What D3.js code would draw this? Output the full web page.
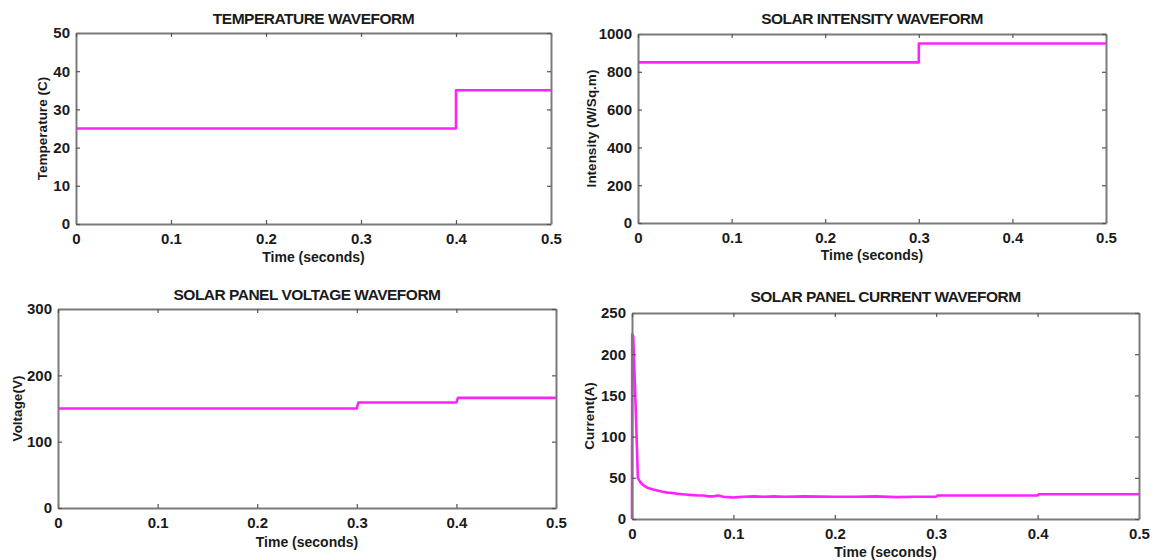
<!DOCTYPE html>
<html>
<head>
<meta charset="utf-8">
<script src="https://cdn.jsdelivr.net/npm/d3@7"></script>
<style>
  html, body { margin: 0; padding: 0; background: #fff; }
  svg text { font-family: "Liberation Sans", Arial, sans-serif; font-weight: bold; fill: #1a1a1a; }
</style>
</head>
<body>
<svg id="chart" width="1158" height="560"></svg>
<script>
// Time axis shared by all four waveforms
const timeTicks = [0, 0.1, 0.2, 0.3, 0.4, 0.5];

// Temperature step (C)
const tempTime  = [0, 0.4, 0.4, 0.5];
const tempValue = [25, 25, 35, 35];
const tempTicks = [0, 10, 20, 30, 40, 50];

// Irradiance step (W/Sq.m)
const irrTime  = [0, 0.3, 0.3, 0.5];
const irrValue = [850, 850, 950, 950];
const irrTicks = [0, 200, 400, 600, 800, 1000];

// Panel voltage (V)
const voltTime  = [0, 0.3, 0.3015, 0.4, 0.4015, 0.5];
const voltValue = [150, 150, 159, 159, 166, 166];
const voltTicks = [0, 100, 200, 300];

// Panel current (A): start-up spike then settling
const currTime  = [0, 0.0002, 0.0012, 0.0035, 0.0058, 0.008, 0.011, 0.015, 0.02, 0.025, 0.03, 0.035, 0.04, 0.045,
                   0.05, 0.055, 0.06, 0.065, 0.07, 0.075, 0.08, 0.085, 0.09, 0.095, 0.1, 0.105, 0.11, 0.12, 0.13,
                   0.14, 0.15, 0.17, 0.2, 0.22, 0.24, 0.26, 0.28, 0.3, 0.301, 0.33, 0.36, 0.4, 0.401, 0.45, 0.5];
const currValue = [0, 224, 222, 140, 50, 45, 41, 38, 36, 34.5, 33, 32, 31.5, 30.5,
                   30, 29.5, 29, 28.5, 28.5, 27.5, 27.5, 28.5, 27, 26.5, 26, 26.5, 27, 27.5, 27,
                   27.5, 27, 27.5, 27, 27, 27.5, 26.5, 27, 27, 28.5, 28.5, 28.5, 28.5, 30, 30, 30];
const currTicks = [0, 50, 100, 150, 200, 250];

const svg = d3.select("#chart");

const panels = [
  { title: "TEMPERATURE WAVEFORM", ylabel: "Temperature (C)",
    box: { l: 76, r: 551, t: 33, b: 224 }, ymax: 50, yticks: tempTicks,
    t: tempTime, v: tempValue, titleY: 24, xlabY: 262, ylabX: 47 },
  { title: "SOLAR INTENSITY WAVEFORM", ylabel: "Intensity (W/Sq.m)",
    box: { l: 638, r: 1106, t: 34, b: 223 }, ymax: 1000, yticks: irrTicks,
    t: irrTime, v: irrValue, titleY: 24, xlabY: 260, ylabX: 596 },
  { title: "SOLAR PANEL VOLTAGE WAVEFORM", ylabel: "Voltage(V)",
    box: { l: 58, r: 556, t: 309, b: 508 }, ymax: 300, yticks: voltTicks,
    t: voltTime, v: voltValue, titleY: 300, xlabY: 547, ylabX: 22 },
  { title: "SOLAR PANEL CURRENT WAVEFORM", ylabel: "Current(A)",
    box: { l: 632, r: 1139, t: 313, b: 519 }, ymax: 250, yticks: currTicks,
    t: currTime, v: currValue, titleY: 302, xlabY: 557, ylabX: 594 }
];

panels.forEach(p => {
  const b = p.box;
  const x = d3.scaleLinear().domain([0, 0.5]).range([b.l, b.r]);
  const y = d3.scaleLinear().domain([0, p.ymax]).range([b.b, b.t]);
  const g = svg.append("g");

  // waveform
  const pts = p.t.map((t, i) => [t, p.v[i]]);
  g.append("path")
    .datum(pts)
    .attr("fill", "none")
    .attr("stroke", "#ff22ff")
    .attr("stroke-width", 2.6)
    .attr("stroke-linejoin", "round")
    .attr("d", d3.line().x(d => x(d[0])).y(d => y(d[1])));

  // axes: bottom and left with labels, top and right ticks only (boxed frame)
  const tickStyle = sel => {
    sel.select(".domain").attr("stroke", "#7a7a7a").attr("stroke-width", 2);
    sel.selectAll(".tick line").attr("stroke", "#555").attr("stroke-width", 1.2);
    sel.selectAll(".tick text")
      .style("font-family", "'Liberation Sans', Arial, sans-serif")
      .style("font-weight", "bold")
      .style("font-size", "15px")
      .attr("fill", "#1f1f1f");
  };

  g.append("g").attr("transform", `translate(0,${b.b})`)
    .call(d3.axisBottom(x).tickValues(timeTicks).tickSize(-4).tickSizeOuter(0).tickPadding(9)
      .tickFormat(d => d === 0 ? "0" : d3.format(".1f")(d)))
    .call(tickStyle);
  g.append("g").attr("transform", `translate(${b.l},0)`)
    .call(d3.axisLeft(y).tickValues(p.yticks).tickSize(-4).tickSizeOuter(0).tickPadding(6)
      .tickFormat(d3.format("d")))
    .call(tickStyle);
  g.append("g").attr("transform", `translate(0,${b.t})`)
    .call(d3.axisTop(x).tickValues(timeTicks).tickSize(-4).tickSizeOuter(0).tickFormat(""))
    .call(tickStyle);
  g.append("g").attr("transform", `translate(${b.r},0)`)
    .call(d3.axisRight(y).tickValues(p.yticks).tickSize(-4).tickSizeOuter(0).tickFormat(""))
    .call(tickStyle);

  // title and axis labels
  g.append("text")
    .attr("x", (b.l + b.r) / 2).attr("y", p.titleY)
    .attr("text-anchor", "middle")
    .style("font-size", "15.5px")
    .style("letter-spacing", "-0.5px")
    .text(p.title);
  g.append("text")
    .attr("x", (b.l + b.r) / 2).attr("y", p.xlabY)
    .attr("text-anchor", "middle")
    .style("font-size", "14px")
    .text("Time (seconds)");
  g.append("text")
    .attr("transform", `translate(${p.ylabX},${(b.t + b.b) / 2}) rotate(-90)`)
    .attr("text-anchor", "middle")
    .style("font-size", "13.5px")
    .text(p.ylabel);
});
</script>
</body>
</html>
